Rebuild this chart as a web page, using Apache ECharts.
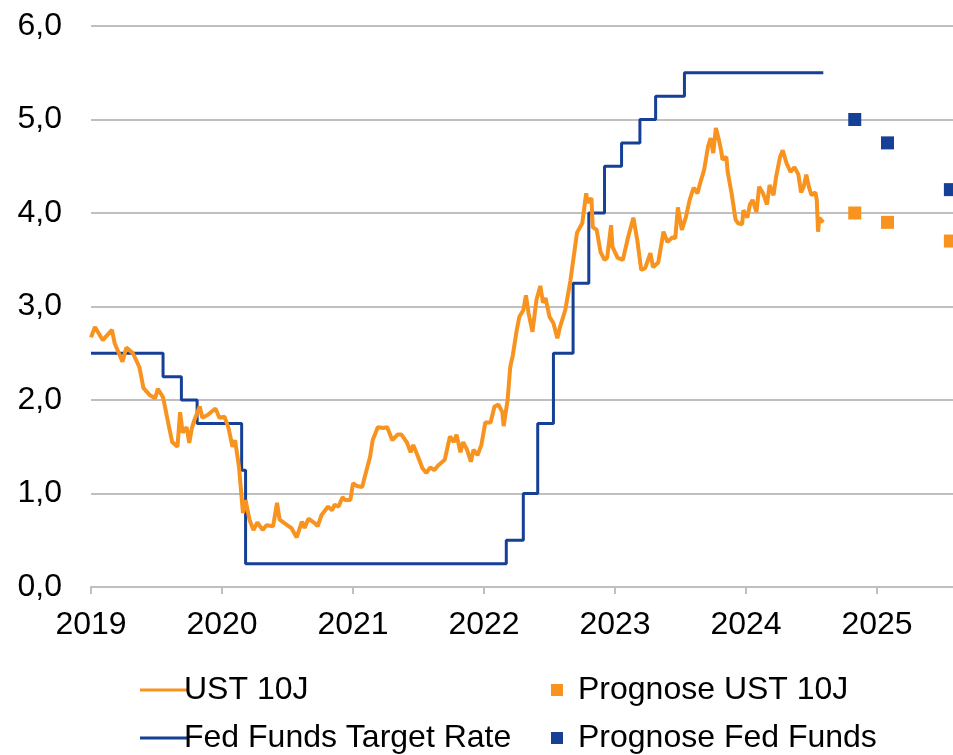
<!DOCTYPE html>
<html>
<head>
<meta charset="utf-8">
<script src="https://cdn.jsdelivr.net/npm/echarts@6/dist/echarts.min.js"></script>
<style>
  html, body { margin: 0; padding: 0; background: #fff; }
  #main { width: 953px; height: 755px; }
</style>
</head>
<body>
<div id="main"></div>
<script>
// UST 10J (Rendite, decimal year / %)
var ustYears = [2019.00, 2019.03, 2019.09, 2019.16, 2019.18, 2019.24, 2019.27, 2019.32, 2019.37, 2019.40,
  2019.45, 2019.49, 2019.51, 2019.55, 2019.59, 2019.62, 2019.66, 2019.68, 2019.70, 2019.73,
  2019.75, 2019.77, 2019.79, 2019.83, 2019.85, 2019.89, 2019.95, 2019.98, 2020.02, 2020.05,
  2020.08, 2020.10, 2020.13, 2020.16, 2020.18, 2020.21, 2020.24, 2020.27, 2020.31, 2020.34,
  2020.39, 2020.42, 2020.44, 2020.50, 2020.53, 2020.57, 2020.61, 2020.63, 2020.66, 2020.71,
  2020.73, 2020.76, 2020.81, 2020.84, 2020.86, 2020.89, 2020.92, 2020.94, 2020.98, 2021.00,
  2021.03, 2021.07, 2021.09, 2021.13, 2021.15, 2021.19, 2021.23, 2021.26, 2021.30, 2021.34,
  2021.37, 2021.41, 2021.44, 2021.46, 2021.50, 2021.53, 2021.56, 2021.59, 2021.62, 2021.65,
  2021.70, 2021.74, 2021.77, 2021.79, 2021.82, 2021.84, 2021.87, 2021.90, 2021.92, 2021.95,
  2021.98, 2022.01, 2022.05, 2022.08, 2022.11, 2022.14, 2022.15, 2022.18, 2022.20, 2022.22,
  2022.25, 2022.27, 2022.30, 2022.32, 2022.34, 2022.37, 2022.40, 2022.43, 2022.45, 2022.47,
  2022.50, 2022.53, 2022.56, 2022.58, 2022.62, 2022.66, 2022.71, 2022.75, 2022.78, 2022.79,
  2022.82, 2022.83, 2022.86, 2022.89, 2022.92, 2022.94, 2022.97, 2022.98, 2023.02, 2023.06,
  2023.10, 2023.14, 2023.17, 2023.20, 2023.23, 2023.27, 2023.29, 2023.33, 2023.37, 2023.40,
  2023.44, 2023.46, 2023.48, 2023.51, 2023.54, 2023.57, 2023.60, 2023.63, 2023.65, 2023.68,
  2023.71, 2023.73, 2023.75, 2023.77, 2023.79, 2023.81, 2023.82, 2023.85, 2023.86, 2023.89,
  2023.92, 2023.94, 2023.97, 2023.98, 2024.01, 2024.03, 2024.05, 2024.08, 2024.10, 2024.13,
  2024.16, 2024.18, 2024.21, 2024.23, 2024.26, 2024.28, 2024.31, 2024.34, 2024.37, 2024.40,
  2024.42, 2024.44, 2024.46, 2024.48, 2024.50, 2024.53, 2024.54, 2024.55, 2024.56, 2024.59];
var ustValues = [2.67, 2.78, 2.64, 2.75, 2.61, 2.41, 2.56, 2.50, 2.35, 2.13,
  2.05, 2.02, 2.12, 2.03, 1.75, 1.55, 1.50, 1.87, 1.65, 1.71,
  1.54, 1.70, 1.79, 1.93, 1.81, 1.84, 1.91, 1.81, 1.82, 1.70,
  1.50, 1.57, 1.28, 0.79, 0.93, 0.72, 0.61, 0.69, 0.61, 0.66,
  0.65, 0.90, 0.72, 0.66, 0.63, 0.53, 0.70, 0.63, 0.73, 0.68,
  0.65, 0.77, 0.86, 0.82, 0.88, 0.86, 0.96, 0.93, 0.93, 1.11,
  1.08, 1.07, 1.18, 1.39, 1.57, 1.71, 1.70, 1.71, 1.57, 1.63,
  1.63, 1.55, 1.44, 1.52, 1.38, 1.27, 1.22, 1.28, 1.25, 1.30,
  1.36, 1.61, 1.55, 1.63, 1.44, 1.55, 1.47, 1.34, 1.47, 1.41,
  1.52, 1.76, 1.76, 1.93, 1.95, 1.87, 1.72, 2.00, 2.35, 2.48,
  2.75, 2.89, 2.96, 3.12, 2.93, 2.73, 3.07, 3.22, 3.04, 3.09,
  2.89, 2.82, 2.66, 2.78, 2.96, 3.28, 3.79, 3.89, 4.21, 4.11,
  4.16, 3.85, 3.82, 3.58, 3.50, 3.52, 3.87, 3.64, 3.52, 3.50,
  3.74, 3.95, 3.71, 3.39, 3.41, 3.57, 3.42, 3.47, 3.80, 3.69,
  3.74, 3.73, 4.06, 3.82, 3.95, 4.14, 4.27, 4.21, 4.32, 4.46,
  4.71, 4.80, 4.64, 4.91, 4.80, 4.67, 4.57, 4.60, 4.44, 4.21,
  3.93, 3.89, 3.88, 4.03, 3.95, 4.09, 4.14, 4.01, 4.28, 4.21,
  4.09, 4.30, 4.19, 4.39, 4.60, 4.67, 4.53, 4.44, 4.49, 4.41,
  4.22, 4.28, 4.41, 4.28, 4.19, 4.22, 4.14, 3.80, 3.95, 3.90];

// Fed Funds Target Rate (Obergrenze), Zeitpunkt der Änderung
var fedYears = [2019.00, 2019.55, 2019.69, 2019.81, 2020.15, 2020.18, 2022.17, 2022.30, 2022.41,
  2022.53, 2022.68, 2022.80, 2022.92, 2023.05, 2023.19, 2023.31, 2023.53, 2024.59];
var fedValues = [2.50, 2.25, 2.00, 1.75, 1.25, 0.25, 0.50, 1.00, 1.75,
  2.50, 3.25, 4.00, 4.50, 4.75, 5.00, 5.25, 5.50, 5.50];

// Prognosen
var forecastYears = [2024.83, 2025.08, 2025.56];
var forecastUst = [4.00, 3.90, 3.70];
var forecastFed = [5.00, 4.75, 4.25];

var yTicks = [0, 1, 2, 3, 4, 5, 6];

function pairs(xs, ys) {
  return xs.map(function (x, i) { return [x, ys[i]]; });
}

var orange = '#f7931e';
var blue = '#163f96';
var grey = '#bfbfbf';
var font = '"Liberation Sans", Arial, sans-serif';
var fs = 32;

var myChart = echarts.init(document.getElementById('main'));

// one legend per entry, laid out as 2x2 like the original
function legendItem(name, left, top, w, h, pad) {
  return {
    left: left,
    top: top,
    itemWidth: w,
    itemHeight: h,
    icon: 'rect',
    textStyle: { fontSize: fs, color: '#000', fontFamily: font, padding: [0, 0, 0, pad] },
    data: [name]
  };
}

var option = {
  animation: false,
  backgroundColor: '#fff',
  textStyle: { fontFamily: font },
  grid: { left: 91, right: 0, top: 26, bottom: 168 },
  xAxis: {
    type: 'value',
    min: 2019,
    max: 2025.58,
    interval: 1,
    axisLine: { lineStyle: { color: grey, width: 2 } },
    axisTick: { show: true, length: 7, lineStyle: { color: grey, width: 2 } },
    splitLine: { show: false },
    axisLabel: {
      color: '#000',
      fontSize: fs,
      fontFamily: font,
      margin: 22,
      showMaxLabel: false,
      formatter: function (v) { return Math.abs(v - Math.round(v)) < 1e-6 ? String(Math.round(v)) : ''; }
    }
  },
  yAxis: {
    type: 'value',
    min: yTicks[0],
    max: yTicks[yTicks.length - 1],
    interval: 1,
    axisLine: { show: false },
    axisTick: { show: false },
    splitLine: { lineStyle: { color: grey, width: 2 } },
    axisLabel: {
      color: '#000',
      fontSize: fs,
      fontFamily: font,
      margin: 29,
      formatter: function (v) { return v.toFixed(1).replace('.', ','); }
    }
  },
  legend: [
    legendItem('UST 10J', 135, 669, 47, 3, -8),
    legendItem('Fed Funds Target Rate', 135, 717, 47, 3, -8),
    legendItem('Prognose UST 10J', 546, 669, 12, 12, 10),
    legendItem('Prognose Fed Funds', 546, 717, 12, 12, 10)
  ],
  series: [{
    name: 'UST 10J',
    type: 'line',
    color: orange,
    showSymbol: false,
    lineStyle: { width: 4, color: orange },
    data: pairs(ustYears, ustValues),
    z: 3
  }, {
    name: 'Fed Funds Target Rate',
    type: 'line',
    step: 'end',
    color: blue,
    showSymbol: false,
    lineStyle: { width: 3, color: blue },
    data: pairs(fedYears, fedValues),
    z: 2
  }, {
    name: 'Prognose UST 10J',
    type: 'scatter',
    color: orange,
    symbol: 'rect',
    symbolSize: 13,
    itemStyle: { opacity: 1, color: orange },
    data: pairs(forecastYears, forecastUst)
  }, {
    name: 'Prognose Fed Funds',
    type: 'scatter',
    color: blue,
    symbol: 'rect',
    symbolSize: 13,
    itemStyle: { opacity: 1, color: blue },
    data: pairs(forecastYears, forecastFed)
  }]
};

myChart.setOption(option);
</script>
</body>
</html>
